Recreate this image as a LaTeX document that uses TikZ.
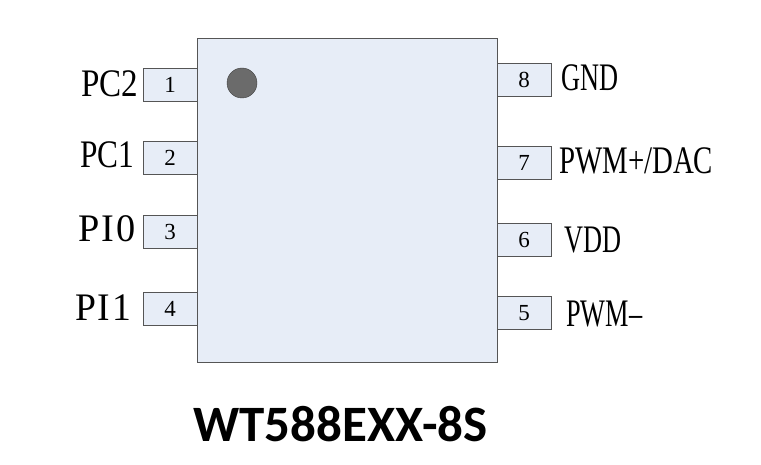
\documentclass[tikz,border=0pt]{standalone}
\usepackage{graphicx}
\usepackage{fontspec}
\setmainfont{Liberation Serif}
\newfontfamily\titlefont{Carlito}
\definecolor{chipfill}{RGB}{231,237,247}
\definecolor{chipline}{RGB}{85,85,85}
\newcommand{\pinname}[2]{\resizebox{#1}{\height}{#2}}
\tikzset{
  chipbody/.style={draw=chipline,fill=chipfill,line width=1pt},
  pinbox/.style={chipbody,minimum width=54pt,minimum height=33pt,inner sep=0pt,font=\fontsize{23}{23}\selectfont},
  pinlabel/.style={inner sep=0pt,anchor=base west,font=\fontsize{39}{39}\selectfont},
}
\begin{document}
\begin{tikzpicture}[x=1pt,y=-1pt]
    \useasboundingbox (0,0) rectangle (761,465);
    \fill[white] (0,0) rectangle (761,465);
    \coordinate (c0) at (197,38.5);
    \coordinate (c1) at (497,362);

    \node[pinbox] (pin1) at (170,85) {1};
    \node[pinbox] (pin2) at (170,158) {2};
    \node[pinbox] (pin3) at (170,232) {3};
    \node[pinbox] (pin4) at (170,309) {4};
    \node[pinbox] (pin8) at (524,80) {8};
    \node[pinbox] (pin7) at (524,163) {7};
    \node[pinbox] (pin6) at (524,240) {6};
    \node[pinbox] (pin5) at (524,313) {5};

    \draw[chipbody] (c0) rectangle (c1);
    \fill[fill=black!58,draw=black!75] (242,83) circle (15);

    \node[pinlabel] (pc2) at (81,97) {\pinname{57pt}{PC2}};
    \node[pinlabel] (pc1) at (80,168) {\pinname{54pt}{PC1}};
    \node[pinlabel] (pi0) at (78,242) {\pinname{57pt}{\addfontfeature{LetterSpace=5}PI0}};
    \node[pinlabel] (pi1) at (75,320) {\pinname{56pt}{\addfontfeature{LetterSpace=5}PI1}};
    \node[pinlabel] (gnd) at (561,91) {\pinname{57pt}{GND}};
    \node[pinlabel] (pwmp) at (559,174) {\pinname{154pt}{PWM+/DAC}};
    \node[pinlabel] (vdd) at (564,253) {\pinname{57pt}{VDD}};
    \node[pinlabel] (pwmm) at (566,326) {\pinname{76pt}{PWM–}};

    \node[font=\titlefont\bfseries\fontsize{51}{51}\selectfont,inner sep=0pt] (title) at (340.5,424) {WT588EXX-8S};
\end{tikzpicture}
\end{document}
